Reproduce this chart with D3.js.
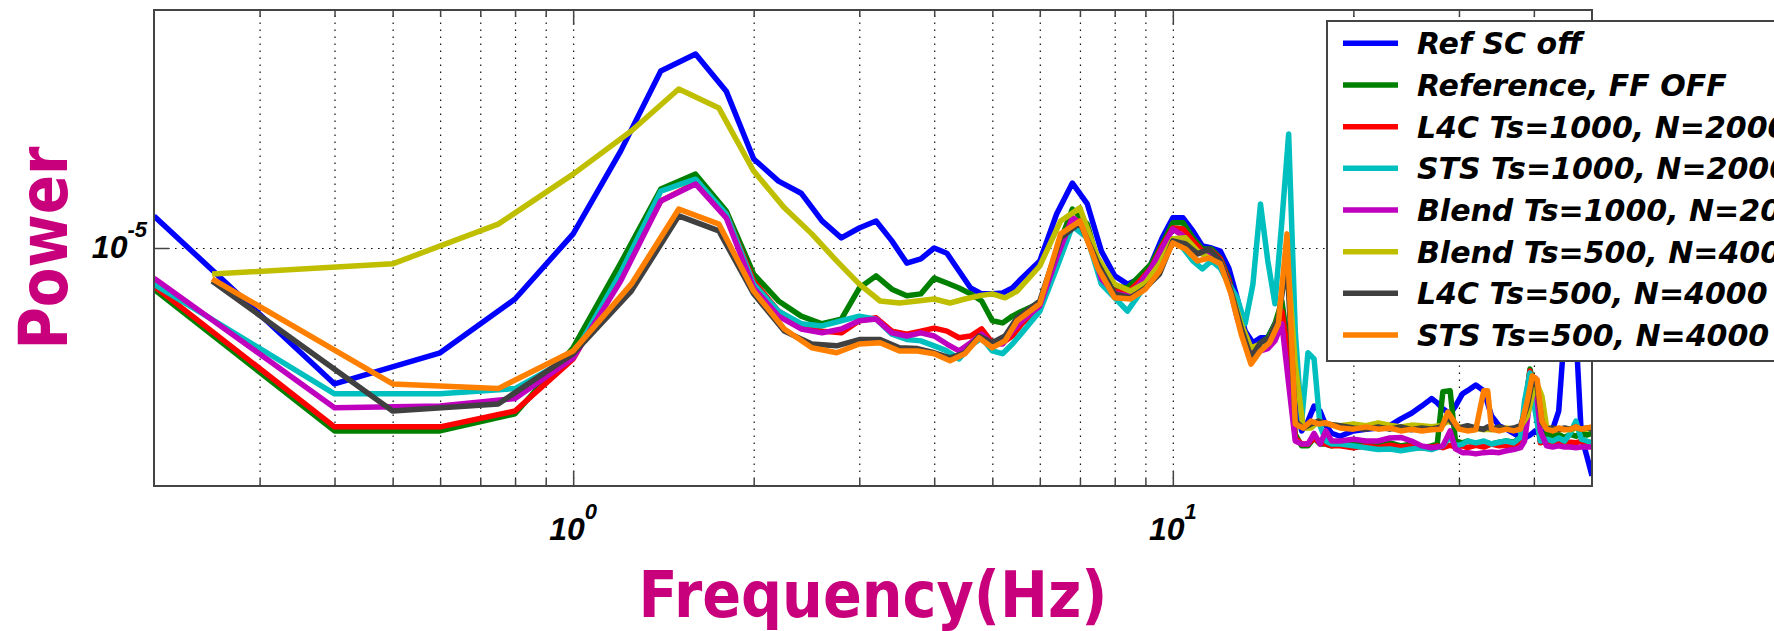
<!DOCTYPE html>
<html>
<head>
<meta charset="utf-8">
<title>PSD comparison</title>
<script src="https://cdn.jsdelivr.net/npm/d3@7/dist/d3.min.js"></script>
<style>
  body { margin: 0; background: #fff; }
  .grid line { stroke: #111; stroke-width: 1.2; stroke-dasharray: 1.6 5.4; }
  .grid path { display: none; }
  .ticks path { display: none; }
  .ticks line { stroke: #444; stroke-width: 1.5; }
  .tick-label { font-family: "Liberation Sans", Arial, sans-serif; font-style: italic; font-weight: bold; font-size: 32px; fill: #000; }
  .axis-title { font-family: "DejaVu Sans", sans-serif; font-weight: bold; fill: #c8007c; }
  .legend text { font-family: "DejaVu Sans", sans-serif; font-weight: bold; font-style: italic; font-size: 30px; fill: #000; }
</style>
</head>
<body>
<div id="psd"></div>
<script>
// power values below are given in units of 1e-5
const powerUnit = 1e-5;

// frequency bins (Hz) of the Ts=1000 runs and of the Ts=500 runs
const freqTs1000 = [0.2, 0.4, 0.6, 0.8, 1.0, 1.2, 1.4, 1.6, 1.8, 2.0,
  2.2, 2.4, 2.6, 2.8, 3.0, 3.2, 3.4, 3.6, 3.8, 4.0,
  4.2, 4.4, 4.6, 4.8, 5.0, 5.2, 5.4, 5.6,
  6.0, 6.4, 6.8, 7.2, 7.6, 8.0, 8.4, 8.8, 9.2, 9.6,
  10.0, 10.4, 10.8, 11.2, 11.6, 12.0, 12.4, 12.8, 13.2, 13.6,
  14.0, 14.4, 14.8, 15.2, 15.6, 16.0, 16.4, 16.8, 17.2, 17.6,
  18.0, 18.4,
  19, 20, 21, 22, 23, 24, 25, 26, 27,
  27.6, 28.2, 29, 29.6, 30.4,
  31, 32, 33, 34, 35, 36, 37, 38,
  38.6, 39.4, 40.2,
  41, 42, 43, 44, 45, 46, 47, 48, 49, 50];

const freqTs500 = [0.25, 0.5, 0.75, 1.0, 1.25, 1.5, 1.75, 2.0, 2.25, 2.5, 2.75,
  3.0, 3.25, 3.5, 3.75, 4.0, 4.25, 4.5, 4.75, 5.0, 5.25, 5.5,
  6.0, 6.5, 7.0, 7.5, 8.0, 8.5, 9.0, 9.5, 10.0, 10.5, 11.0, 11.5, 12.0,
  12.5, 13.0, 13.5, 14.0, 14.5, 15.0, 15.5, 16.0, 16.5, 17.0, 17.5, 18.0,
  19, 20, 21, 22, 23, 24, 25, 26, 27, 28,
  28.75, 29.25,
  30, 31, 32, 33, 33.5, 34, 35, 36, 37, 38, 39,
  39.75, 40.5, 41.25,
  42, 43, 44, 45, 46, 47, 48, 49, 50];

const refScOff = [1.098, 0.673, 0.737, 0.862, 1.042, 1.326, 1.674, 1.759, 1.579, 1.296,
  1.215, 1.173, 1.082, 1.030, 1.060, 1.082, 1.021, 0.957, 0.969, 1.000,
  0.985, 0.935, 0.890, 0.875, 0.875, 0.877, 0.890, 0.916,
  0.963, 1.104, 1.208, 1.137, 0.991, 0.922, 0.900, 0.914, 0.955, 1.030,
  1.092, 1.092, 1.051, 1.006, 1.000, 0.991, 0.943, 0.865, 0.785, 0.759,
  0.770, 0.770, 0.802, 0.820, 0.785, 0.641, 0.587, 0.604, 0.631, 0.622,
  0.596, 0.583,
  0.578, 0.587, 0.590, 0.592, 0.596, 0.608, 0.618, 0.631, 0.645,
  0.637, 0.626, 0.617, 0.631, 0.654,
  0.660, 0.671, 0.660, 0.613, 0.596, 0.590, 0.583, 0.576,
  0.575, 0.580, 0.587,
  0.583, 0.587, 0.590, 0.622, 0.785, 0.908, 0.785, 0.578, 0.546, 0.515];

const referenceFfOff = [0.887, 0.587, 0.587, 0.617, 0.748, 0.957, 1.187, 1.240, 1.114, 0.927,
  0.857, 0.820, 0.802, 0.813, 0.890, 0.922, 0.887, 0.870, 0.875, 0.916,
  0.903, 0.890, 0.875, 0.857, 0.809, 0.804, 0.820, 0.832,
  0.852, 0.991, 1.120, 1.072, 0.927, 0.895, 0.890, 0.922, 0.955, 1.012,
  1.076, 1.076, 1.030, 0.997, 0.997, 0.971, 0.916, 0.832, 0.770, 0.741,
  0.759, 0.770, 0.802, 0.857, 0.741, 0.581, 0.562, 0.562, 0.575, 0.565,
  0.565, 0.562,
  0.565, 0.570, 0.565, 0.562, 0.567, 0.562, 0.565, 0.559, 0.562,
  0.565, 0.658, 0.660, 0.570, 0.567,
  0.570, 0.565, 0.568, 0.565, 0.568, 0.570, 0.568, 0.576,
  0.622, 0.703, 0.660,
  0.583, 0.581, 0.578, 0.581, 0.576, 0.581, 0.578, 0.583, 0.580, 0.583];

const l4cTs1000 = [0.895, 0.594, 0.594, 0.622, 0.724, 0.922, 1.147, 1.208, 1.104, 0.908,
  0.832, 0.797, 0.785, 0.781, 0.809, 0.816, 0.785, 0.778, 0.785, 0.792,
  0.785, 0.770, 0.774, 0.790, 0.759, 0.759, 0.774, 0.802,
  0.840, 0.971, 1.092, 1.060, 0.916, 0.882, 0.877, 0.908, 0.943, 1.006,
  1.060, 1.057, 1.021, 0.991, 0.991, 0.969, 0.908, 0.825, 0.763, 0.741,
  0.756, 0.763, 0.785, 0.832, 0.726, 0.575, 0.565, 0.565, 0.575, 0.567,
  0.565, 0.562,
  0.562, 0.559, 0.562, 0.559, 0.563, 0.560, 0.562, 0.559, 0.560,
  0.562, 0.559, 0.563, 0.560, 0.562,
  0.559, 0.563, 0.560, 0.565, 0.562, 0.563, 0.560, 0.570,
  0.622, 0.699, 0.641,
  0.567, 0.570, 0.565, 0.568, 0.565, 0.568, 0.567, 0.570, 0.565, 0.568];

const stsTs1000 = [0.900, 0.654, 0.654, 0.664, 0.730, 0.930, 1.180, 1.222, 1.104, 0.900,
  0.832, 0.802, 0.797, 0.809, 0.820, 0.813, 0.778, 0.766, 0.763, 0.752,
  0.741, 0.724, 0.752, 0.770, 0.741, 0.735, 0.756, 0.781,
  0.832, 0.943, 1.066, 1.030, 0.900, 0.865, 0.832, 0.875, 0.916, 0.971,
  1.027, 1.000, 0.963, 0.941, 0.963, 0.943, 0.900, 0.865, 0.802, 0.900,
  1.137, 0.963, 0.850, 1.082, 1.394, 0.785, 0.604, 0.737, 0.724, 0.596,
  0.570, 0.565,
  0.565, 0.562, 0.559, 0.556, 0.557, 0.554, 0.557, 0.559, 0.556,
  0.559, 0.562, 0.578, 0.562, 0.565,
  0.570, 0.567, 0.570, 0.565, 0.568, 0.570, 0.567, 0.576,
  0.641, 0.695, 0.622,
  0.570, 0.573, 0.570, 0.575, 0.570, 0.583, 0.604, 0.573, 0.570, 0.567];

const blendTs1000 = [0.916, 0.628, 0.631, 0.645, 0.726, 0.908, 1.147, 1.205, 1.092, 0.890,
  0.820, 0.790, 0.781, 0.790, 0.809, 0.813, 0.781, 0.774, 0.781, 0.774,
  0.756, 0.741, 0.759, 0.778, 0.756, 0.756, 0.785, 0.809,
  0.845, 0.971, 1.092, 1.057, 0.914, 0.877, 0.870, 0.900, 0.943, 1.000,
  1.057, 1.036, 1.000, 0.983, 0.985, 0.963, 0.900, 0.816, 0.756, 0.735,
  0.741, 0.746, 0.763, 0.802, 0.673, 0.570, 0.565, 0.565, 0.583, 0.565,
  0.587, 0.570,
  0.570, 0.573, 0.570, 0.570, 0.575, 0.576, 0.570, 0.562, 0.559,
  0.560, 0.562, 0.587, 0.557, 0.551,
  0.551, 0.549, 0.551, 0.552, 0.551, 0.554, 0.556, 0.559,
  0.570, 0.641, 0.685,
  0.587, 0.562, 0.560, 0.562, 0.560, 0.560, 0.559, 0.560, 0.560, 0.560];

const blendTs500 = [0.927, 0.955, 1.072, 1.240, 1.406, 1.589, 1.503, 1.251, 1.124, 1.042, 0.963,
  0.900, 0.857, 0.852, 0.857, 0.862, 0.852, 0.862, 0.870, 0.875, 0.865, 0.882,
  0.949, 1.082, 1.124, 0.971, 0.900, 0.882, 0.903, 0.955, 1.027, 1.030, 0.991, 0.971, 0.963,
  0.882, 0.802, 0.748, 0.756, 0.770, 0.816, 0.991, 0.713, 0.592, 0.592, 0.604, 0.599,
  0.596, 0.599, 0.596, 0.601, 0.597, 0.594, 0.597, 0.596, 0.594, 0.596,
  0.604, 0.601,
  0.594, 0.590, 0.592, 0.589, 0.590, 0.589, 0.590, 0.592, 0.590, 0.594, 0.613,
  0.650, 0.673, 0.650,
  0.594, 0.590, 0.589, 0.590, 0.589, 0.592, 0.590, 0.590, 0.592];

const l4cTs500 = [0.908, 0.622, 0.635, 0.735, 0.882, 1.098, 1.051, 0.875, 0.785, 0.756, 0.752,
  0.766, 0.766, 0.748, 0.746, 0.737, 0.726, 0.737, 0.774, 0.759, 0.774, 0.816,
  0.857, 1.030, 1.076, 0.955, 0.875, 0.865, 0.890, 0.927, 1.021, 1.012, 0.983, 0.997, 0.963,
  0.882, 0.792, 0.726, 0.759, 0.770, 0.816, 0.963, 0.604, 0.592, 0.599, 0.604, 0.599,
  0.596, 0.592, 0.590, 0.594, 0.590, 0.594, 0.589, 0.592, 0.590, 0.594,
  0.611, 0.601,
  0.592, 0.596, 0.592, 0.590, 0.594, 0.590, 0.594, 0.590, 0.592, 0.596, 0.631,
  0.679, 0.669, 0.601,
  0.590, 0.592, 0.589, 0.592, 0.590, 0.594, 0.590, 0.592, 0.590];

const stsTs500 = [0.914, 0.673, 0.664, 0.741, 0.900, 1.120, 1.072, 0.882, 0.790, 0.748, 0.737,
  0.756, 0.759, 0.741, 0.741, 0.735, 0.720, 0.735, 0.770, 0.748, 0.763, 0.809,
  0.850, 1.042, 1.082, 0.943, 0.865, 0.862, 0.887, 0.935, 1.015, 0.997, 0.963, 0.971, 0.955,
  0.875, 0.778, 0.713, 0.741, 0.759, 0.802, 1.042, 0.599, 0.592, 0.604, 0.599, 0.601,
  0.592, 0.590, 0.594, 0.590, 0.592, 0.587, 0.590, 0.587, 0.589, 0.590,
  0.620, 0.608,
  0.590, 0.587, 0.589, 0.660, 0.660, 0.590, 0.587, 0.590, 0.587, 0.590, 0.641,
  0.689, 0.682, 0.604,
  0.590, 0.587, 0.592, 0.589, 0.590, 0.594, 0.590, 0.592, 0.594];

const seriesNames = ["Ref SC off", "Reference, FF OFF", "L4C Ts=1000, N=2000", "STS Ts=1000, N=2000",
  "Blend Ts=1000, N=2000", "Blend Ts=500, N=4000", "L4C Ts=500, N=4000", "STS Ts=500, N=4000"];
const seriesColors = ["#0000ff", "#008000", "#ff0000", "#00bfbf", "#bf00bf", "#bfbf00", "#404040", "#ff8000"];
const seriesPower = [refScOff, referenceFfOff, l4cTs1000, stsTs1000, blendTs1000, blendTs500, l4cTs500, stsTs500];
const seriesFreq = [freqTs1000, freqTs1000, freqTs1000, freqTs1000, freqTs1000, freqTs500, freqTs500, freqTs500];

const xMajorTicks = [1, 10];
const xMinorTicks = [0.3, 0.4, 0.5, 0.6, 0.7, 0.8, 0.9, 2, 3, 4, 5, 6, 7, 8, 9, 20, 30, 40];
const yMajorTicks = [1e-5];

const margin = {top: 10, right: 182, bottom: 145, left: 154};
const width = 1774 - margin.left - margin.right;
const height = 631 - margin.top - margin.bottom;

const series = seriesNames.map((name, i) => ({
  name: name,
  color: seriesColors[i],
  points: d3.zip(seriesFreq[i], seriesPower[i])
}));

const x = d3.scaleLog().domain([0.2, 50]).range([0, width]);
const y = d3.scaleLog().domain([5e-6, 2e-5]).range([height, 0]);

const svg = d3.select("#psd").append("svg")
  .attr("width", 1774)
  .attr("height", 631);

const g = svg.append("g")
  .attr("transform", "translate(" + margin.left + "," + margin.top + ")");

// dotted grid
g.append("g").attr("class", "grid")
  .attr("transform", "translate(0," + height + ")")
  .call(d3.axisBottom(x).tickValues(xMajorTicks.concat(xMinorTicks)).tickSize(-height).tickFormat(""));
g.append("g").attr("class", "grid")
  .call(d3.axisLeft(y).tickValues(yMajorTicks).tickSize(-width).tickFormat(""));

g.append("clipPath").attr("id", "plot-clip")
  .append("rect").attr("width", width).attr("height", height);

const line = d3.line()
  .x(d => x(d[0]))
  .y(d => y(d[1] * powerUnit));

g.append("g").attr("clip-path", "url(#plot-clip)")
  .selectAll("path")
  .data(series)
  .enter().append("path")
    .attr("d", s => line(s.points))
    .attr("fill", "none")
    .attr("stroke", s => s.color)
    .attr("stroke-width", 5.5)
    .attr("stroke-linejoin", "round");

// axes box
g.append("rect")
  .attr("width", width).attr("height", height)
  .attr("fill", "none").attr("stroke", "#444").attr("stroke-width", 2);

// inward ticks on bottom and top
g.append("g").attr("class", "ticks").attr("transform", "translate(0," + height + ")")
  .call(d3.axisBottom(x).tickValues(xMinorTicks).tickSize(-7).tickFormat(""));
g.append("g").attr("class", "ticks").attr("transform", "translate(0," + height + ")")
  .call(d3.axisBottom(x).tickValues(xMajorTicks).tickSize(-15).tickFormat(""));
g.append("g").attr("class", "ticks")
  .call(d3.axisTop(x).tickValues(xMinorTicks).tickSize(-7).tickFormat(""));
g.append("g").attr("class", "ticks")
  .call(d3.axisTop(x).tickValues(xMajorTicks).tickSize(-15).tickFormat(""));
g.append("g").attr("class", "ticks")
  .call(d3.axisLeft(y).tickValues(yMajorTicks).tickSize(-15).tickFormat(""));

// tick labels 10^n
g.selectAll(".xlab")
  .data(xMajorTicks)
  .enter().append("text")
    .attr("class", "tick-label xlab")
    .attr("x", d => x(d))
    .attr("y", height + 54)
    .attr("text-anchor", "middle")
    .each(function(d) {
      const t = d3.select(this);
      t.append("tspan").text("10");
      t.append("tspan").attr("dy", -21).attr("font-size", 22).text(Math.round(Math.log10(d)));
    });

g.selectAll(".ylab")
  .data(yMajorTicks)
  .enter().append("text")
    .attr("class", "tick-label ylab")
    .attr("x", -7)
    .attr("y", d => y(d) + 10)
    .attr("text-anchor", "end")
    .each(function(d) {
      const t = d3.select(this);
      t.append("tspan").text("10");
      t.append("tspan").attr("dy", -21).attr("font-size", 22).text(Math.round(Math.log10(d)));
    });

// axis titles
svg.append("text")
  .attr("class", "axis-title")
  .attr("transform", "translate(67," + (margin.top + height / 2) + ") rotate(-90)")
  .attr("text-anchor", "middle")
  .attr("font-size", 68)
  .attr("textLength", 203)
  .attr("lengthAdjust", "spacingAndGlyphs")
  .text("Power");

svg.append("text")
  .attr("class", "axis-title")
  .attr("x", margin.left + width / 2)
  .attr("y", 617)
  .attr("text-anchor", "middle")
  .attr("font-size", 64)
  .attr("textLength", 469)
  .attr("lengthAdjust", "spacingAndGlyphs")
  .text("Frequency(Hz)");

// legend (runs past the right edge like the original)
const legend = svg.append("g").attr("class", "legend");
legend.append("rect")
  .attr("x", 1327).attr("y", 21)
  .attr("width", 480).attr("height", 340)
  .attr("fill", "#fff").attr("stroke", "#444").attr("stroke-width", 2);

const rows = legend.selectAll(".row")
  .data(series)
  .enter().append("g")
    .attr("class", "row")
    .attr("transform", (d, i) => "translate(0," + (43.3 + i * 41.67) + ")");
rows.append("line")
  .attr("x1", 1343).attr("x2", 1398)
  .attr("stroke", d => d.color).attr("stroke-width", 5.5);
rows.append("text")
  .attr("x", 1417).attr("y", 11)
  .text(d => d.name);
</script>
</body>
</html>
